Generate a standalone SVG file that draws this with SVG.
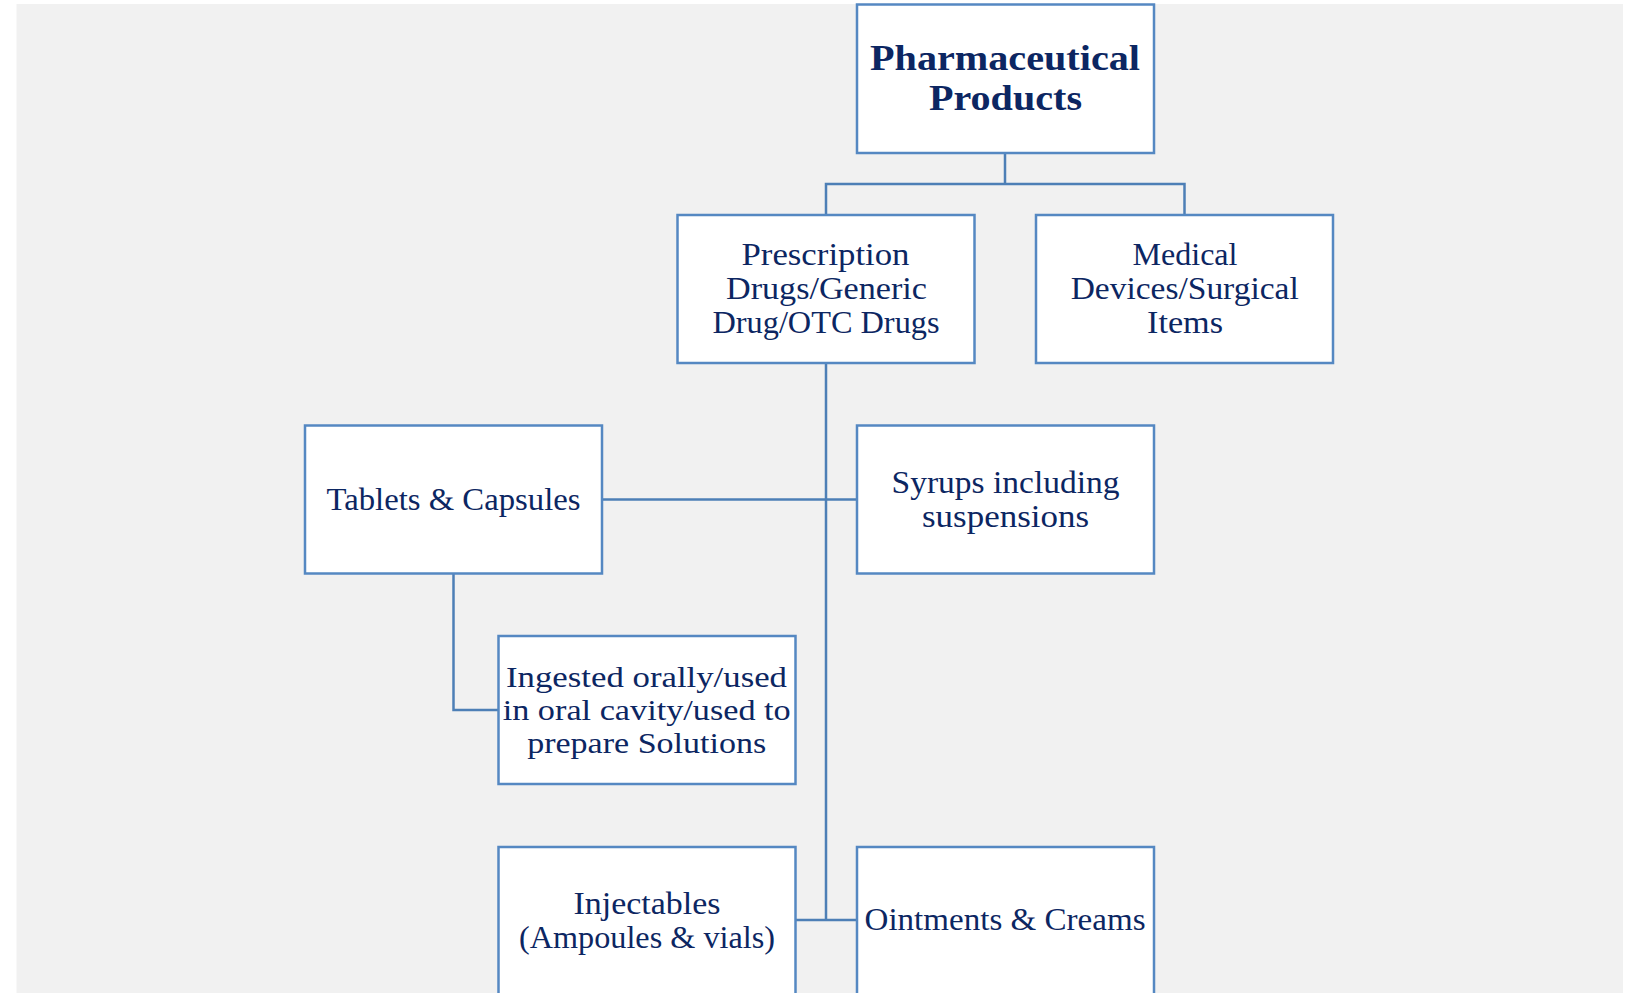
<svg xmlns="http://www.w3.org/2000/svg" width="1628" height="993" viewBox="0 0 1628 993">
<style>
.box{fill:#ffffff;stroke:#5588c2;stroke-width:2.5}
.conn{fill:none;stroke:#4d7fb6;stroke-width:2.5}
.t{font-family:"Liberation Serif","Times New Roman",serif;font-size:32px;fill:#0c2662;text-anchor:middle}
.tn{font-size:30px}
.tb{font-family:"Liberation Serif","Times New Roman",serif;font-size:36px;font-weight:bold;fill:#0c2662;text-anchor:middle}
</style>
<rect x="0" y="0" width="1628" height="993" fill="#ffffff"/>
<rect x="16.5" y="4" width="1606.5" height="989" fill="#f1f1f1"/>
<g id="connectors">
<path class="conn" d="M1005 153 V184 M826 215 V184 H1184.5 V215"/>
<path class="conn" d="M826 363 V920"/>
<path class="conn" d="M602 499.5 H857"/>
<path class="conn" d="M453.5 573.5 V710 H498.5"/>
<path class="conn" d="M795.5 920 H857"/>
</g>
<g id="node-pharmaceutical-products">
<rect class="box" x="857" y="4.5" width="297" height="148.5"/>
<text class="tb" x="1005" y="70" textLength="270" lengthAdjust="spacingAndGlyphs">Pharmaceutical</text>
<text class="tb" x="1005.5" y="110" textLength="153" lengthAdjust="spacingAndGlyphs">Products</text>
</g>
<g id="node-prescription-drugs">
<rect class="box" x="677.5" y="215" width="297" height="148"/>
<text class="t" x="825.5" y="265" textLength="168" lengthAdjust="spacingAndGlyphs">Prescription</text>
<text class="t" x="826.5" y="299" textLength="201" lengthAdjust="spacingAndGlyphs">Drugs/Generic</text>
<text class="t" x="826" y="333" textLength="227" lengthAdjust="spacingAndGlyphs">Drug/OTC Drugs</text>
</g>
<g id="node-medical-devices">
<rect class="box" x="1036" y="215" width="297" height="148"/>
<text class="t" x="1185" y="265" textLength="105" lengthAdjust="spacingAndGlyphs">Medical</text>
<text class="t" x="1184.7" y="299" textLength="228" lengthAdjust="spacingAndGlyphs">Devices/Surgical</text>
<text class="t" x="1185" y="333" textLength="76" lengthAdjust="spacingAndGlyphs">Items</text>
</g>
<g id="node-tablets-capsules">
<rect class="box" x="305" y="425.5" width="297" height="148"/>
<text class="t" x="453.5" y="510" textLength="254" lengthAdjust="spacingAndGlyphs">Tablets &amp; Capsules</text>
</g>
<g id="node-syrups">
<rect class="box" x="857" y="425.5" width="297" height="148"/>
<text class="t" x="1005.5" y="492.5" textLength="228" lengthAdjust="spacingAndGlyphs">Syrups including</text>
<text class="t" x="1005.5" y="526.5" textLength="167" lengthAdjust="spacingAndGlyphs">suspensions</text>
</g>
<g id="node-ingested">
<rect class="box" x="498.5" y="636" width="297" height="148"/>
<text class="t tn" x="646.5" y="687" textLength="281" lengthAdjust="spacingAndGlyphs">Ingested orally/used</text>
<text class="t tn" x="646.7" y="720" textLength="288" lengthAdjust="spacingAndGlyphs">in oral cavity/used to</text>
<text class="t tn" x="646.7" y="753" textLength="239" lengthAdjust="spacingAndGlyphs">prepare Solutions</text>
</g>
<g id="node-injectables">
<rect class="box" x="498.5" y="847" width="297" height="160"/>
<text class="t" x="647" y="914" textLength="147" lengthAdjust="spacingAndGlyphs">Injectables</text>
<text class="t" x="647" y="948" textLength="256" lengthAdjust="spacingAndGlyphs">(Ampoules &amp; vials)</text>
</g>
<g id="node-ointments">
<rect class="box" x="857" y="847" width="297" height="160"/>
<text class="t" x="1005" y="930" textLength="281" lengthAdjust="spacingAndGlyphs">Ointments &amp; Creams</text>
</g>
</svg>
